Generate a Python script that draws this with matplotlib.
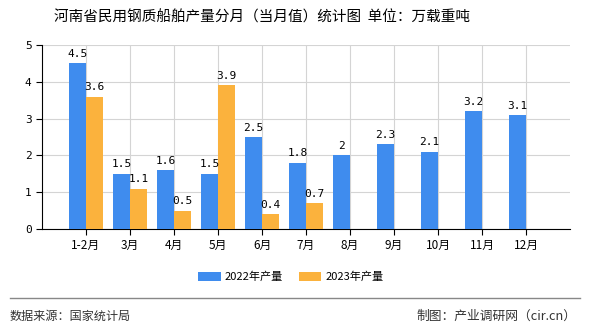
import matplotlib
matplotlib.use("Agg")
import matplotlib.pyplot as plt
import numpy as np

plt.rcParams['font.family'] = ['Noto Sans CJK SC', 'DejaVu Sans']

# --- data ---
months = ['1-2月', '3月', '4月', '5月', '6月', '7月', '8月', '9月', '10月', '11月', '12月']
prod_2022 = [4.5, 1.5, 1.6, 1.5, 2.5, 1.8, 2, 2.3, 2.1, 3.2, 3.1]
prod_2023 = [3.6, 1.1, 0.5, 3.9, 0.4, 0.7]
yticks = [0, 1, 2, 3, 4, 5]

BLUE = '#3f8cee'
ORANGE = '#fbb23d'

fig = plt.figure(figsize=(5.9, 3.3), dpi=100)
ax = fig.add_axes([42 / 590, 101 / 330, 528 / 590, 184 / 330])

x = np.arange(len(months))
w = 0.39
x23 = x[:len(prod_2023)]
ax.bar(x - w / 2, prod_2022, w, color=BLUE, label='2022年产量', zorder=3)
ax.bar(x23 + w / 2, prod_2023, w, color=ORANGE, label='2023年产量', zorder=3)

for xi, v in zip(x, prod_2022):
    ax.text(xi - w / 2, v + 0.12, f'{v:g}', ha='center', va='bottom', fontsize=8,
            family='DejaVu Sans Mono', zorder=4)
for xi, v in zip(x23, prod_2023):
    ax.text(xi + w / 2, v + 0.12, f'{v:g}', ha='center', va='bottom', fontsize=8,
            family='DejaVu Sans Mono', zorder=4)

ax.set_xlim(-1, len(months))
ax.set_ylim(0, 5)
ax.set_yticks(yticks)
ax.set_xticks(x)
ax.set_xticklabels(months, fontsize=8.5)
ax.tick_params(axis='y', labelsize=8, length=4, direction='out')
ax.tick_params(axis='x', length=4, direction='out')
ax.set_yticklabels([str(t) for t in yticks], family='DejaVu Sans Mono')
ax.grid(True, color='#d4d4d4', linewidth=0.8, zorder=0)
ax.set_axisbelow(True)
for s in ['top', 'right']:
    ax.spines[s].set_visible(False)
ax.spines['left'].set_color('black')
ax.spines['bottom'].set_color('black')

fig.text(262 / 590, 1 - 17 / 330, '河南省民用钢质船舶产量分月（当月值）统计图  单位：万载重吨',
         ha='center', va='center', fontsize=10.5)

ax.legend(loc='center', bbox_to_anchor=(((291 - 42) / 528), 1 - (277 - 45) / 184), ncol=2,
          frameon=False, fontsize=8, handlelength=2.0, handleheight=0.8,
          columnspacing=1.4, handletextpad=0.4)

fig.add_artist(plt.Line2D([10 / 590, 580 / 590], [1 - 298 / 330, 1 - 298 / 330],
                          color='#888888', linewidth=1))
fig.text(10 / 590, 1 - 316 / 330, '数据来源：国家统计局', ha='left', va='center',
         fontsize=8.7, color='#333333')
fig.text(576 / 590, 1 - 316 / 330, '制图：产业调研网（cir.cn）', ha='right', va='center',
         fontsize=9.2, color='#333333')

fig.savefig('out.png', dpi=100)
